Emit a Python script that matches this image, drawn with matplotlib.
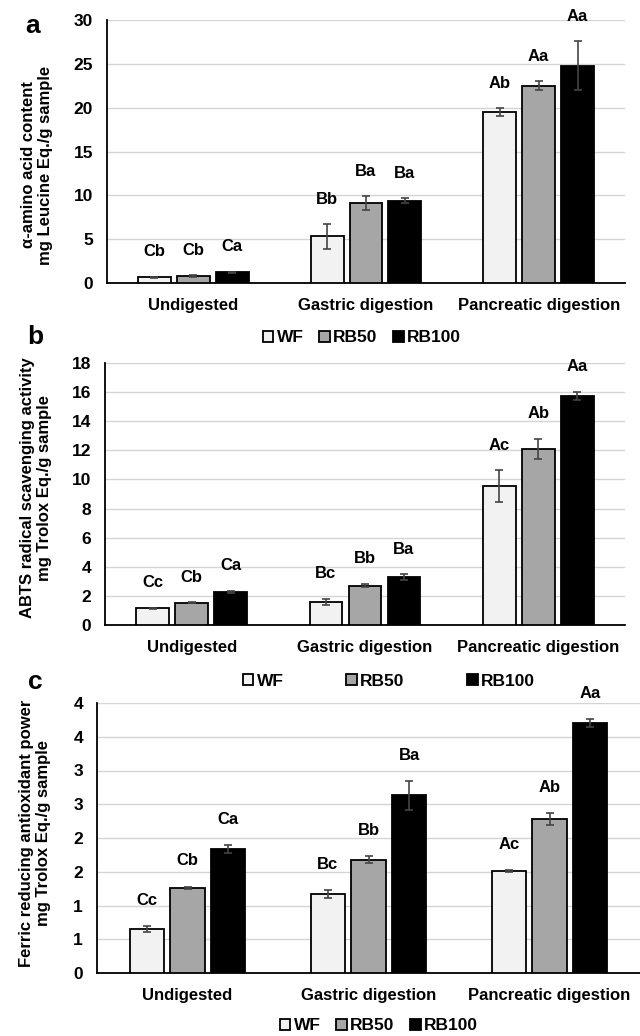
import matplotlib
matplotlib.use('Agg')
import matplotlib.pyplot as plt
from matplotlib.ticker import FuncFormatter

# data
stages = ['Undigested', 'Gastric digestion', 'Pancreatic digestion']
samples = ['WF', 'RB50', 'RB100']

# a: alpha-amino acid content
amino_mean = {'WF': [0.65, 5.32, 19.52], 'RB50': [0.76, 9.11, 22.52], 'RB100': [1.22, 9.38, 24.8]}
amino_err = {'WF': [0.04, 1.39, 0.42], 'RB50': [0.1, 0.76, 0.49], 'RB100': [0.08, 0.3, 2.75]}
amino_sig = {'WF': ['Cb', 'Bb', 'Ab'], 'RB50': ['Cb', 'Ba', 'Aa'], 'RB100': ['Ca', 'Ba', 'Aa']}

# b: ABTS
abts_mean = {'WF': [1.15, 1.58, 9.52], 'RB50': [1.54, 2.71, 12.11], 'RB100': [2.27, 3.3, 15.76]}
abts_err = {'WF': [0.05, 0.24, 1.1], 'RB50': [0.03, 0.13, 0.69], 'RB100': [0.08, 0.18, 0.28]}
abts_sig = {'WF': ['Cc', 'Bc', 'Ac'], 'RB50': ['Cb', 'Bb', 'Ab'], 'RB100': ['Ca', 'Ba', 'Aa']}

# c: FRAP
frap_mean = {'WF': [0.65, 1.17, 1.51], 'RB50': [1.26, 1.68, 2.28], 'RB100': [1.84, 2.63, 3.7]}
frap_err = {'WF': [0.04, 0.06, 0.02], 'RB50': [0.02, 0.05, 0.09], 'RB100': [0.06, 0.21, 0.06]}
frap_sig = {'WF': ['Cc', 'Bc', 'Ac'], 'RB50': ['Cb', 'Bb', 'Ab'], 'RB100': ['Ca', 'Ba', 'Aa']}

colors = {'WF': '#f2f2f2', 'RB50': '#a6a6a6', 'RB100': '#000000'}

plt.rcParams['font.family'] = ['Liberation Sans', 'DejaVu Sans']
plt.rcParams['font.weight'] = 'bold'

W, H = 640, 1036
fig = plt.figure(figsize=(W / 100, H / 100), dpi=100)


def px_axes(l, r, t, b):
    return fig.add_axes([l / W, 1 - b / H, (r - l) / W, (b - t) / H])


def panel(ax, means, errs, sigs, ymax, step):
    width = 0.19
    offs = [-0.225, 0, 0.225]
    x = range(len(stages))
    handles = []
    for s, off in zip(samples, offs):
        xs = [i + off for i in x]
        h = ax.bar(xs, means[s], width, color=colors[s], edgecolor='black', linewidth=1.3, zorder=3)
        ax.errorbar(xs, means[s], yerr=errs[s], fmt='none', ecolor='#444444',
                    elinewidth=1.2, capsize=3, capthick=1.2, zorder=4)
        for xi, m, e, t in zip(xs, means[s], errs[s], sigs[s]):
            ax.text(xi, m + e + 0.095 * ymax, t, ha='center', va='center',
                    fontsize=12, fontweight='bold', zorder=5)
        handles.append(h)
    ax.set_xlim(-0.5, 2.5)
    ax.set_ylim(0, ymax)
    yt = [i * step for i in range(int(round(ymax / step)) + 1)]
    ax.set_yticks(yt)
    ax.set_xticks(list(x))
    ax.set_xticklabels(stages)
    ax.grid(axis='y', color='#d4d4d4', linewidth=1.0, zorder=0)
    ax.set_axisbelow(True)
    for sp in ['top', 'right']:
        ax.spines[sp].set_visible(False)
    ax.spines['left'].set_linewidth(1.3)
    ax.spines['bottom'].set_linewidth(1.3)
    ax.tick_params(axis='x', length=0, labelsize=12, pad=11)
    ax.tick_params(axis='y', length=0, labelsize=12.5, pad=10)
    for lab in ax.get_xticklabels() + ax.get_yticklabels():
        lab.set_fontweight('bold')
    return handles


ax_a = px_axes(107, 625, 20, 283)
hs = panel(ax_a, amino_mean, amino_err, amino_sig, 30, 5)
ax_b = px_axes(105, 625, 363, 625)
panel(ax_b, abts_mean, abts_err, abts_sig, 18, 2)
ax_c = px_axes(97, 640, 703, 973)
panel(ax_c, frap_mean, frap_err, frap_sig, 4, 0.5)
ax_c.yaxis.set_major_formatter(FuncFormatter(lambda v, p: '%d' % int(v + 0.5)))

# y labels
fig.text(37 / W, 1 - 165 / H, 'α-amino acid content\nmg Leucine Eq./g sample', rotation=90,
         ha='center', va='center', multialignment='center', fontsize=12, fontweight='bold')
fig.text(36 / W, 1 - 488 / H, 'ABTS radical scavenging activity\nmg Trolox Eq./g sample', rotation=90,
         ha='center', va='center', multialignment='center', fontsize=12, fontweight='bold')
fig.text(35 / W, 1 - 833 / H, 'Ferric reducing antioxidant power\nmg Trolox Eq./g sample', rotation=90,
         ha='center', va='center', multialignment='center', fontsize=12, fontweight='bold')

# panel letters
for lt, x, y in [('a', 33, 26), ('b', 35, 337), ('c', 35, 682)]:
    fig.text(x / W, 1 - y / H, lt, ha='center', va='center', fontsize=19, fontweight='bold')

# legends
leg_kw = dict(loc='center', ncol=3, frameon=False, handlelength=0.6, handleheight=0.6,
              handletextpad=0.2, prop={'weight': 'bold', 'size': 12.5})
fig.legend(hs, samples, bbox_to_anchor=(362 / W, 1 - 338 / H), columnspacing=0.9, **leg_kw)
fig.legend(hs, samples, bbox_to_anchor=(389 / W, 1 - 681 / H), columnspacing=3.6, **leg_kw)
fig.legend(hs, samples, bbox_to_anchor=(379 / W, 1 - 1026 / H), columnspacing=0.9, **leg_kw)

fig.savefig('out.png', dpi=100)
